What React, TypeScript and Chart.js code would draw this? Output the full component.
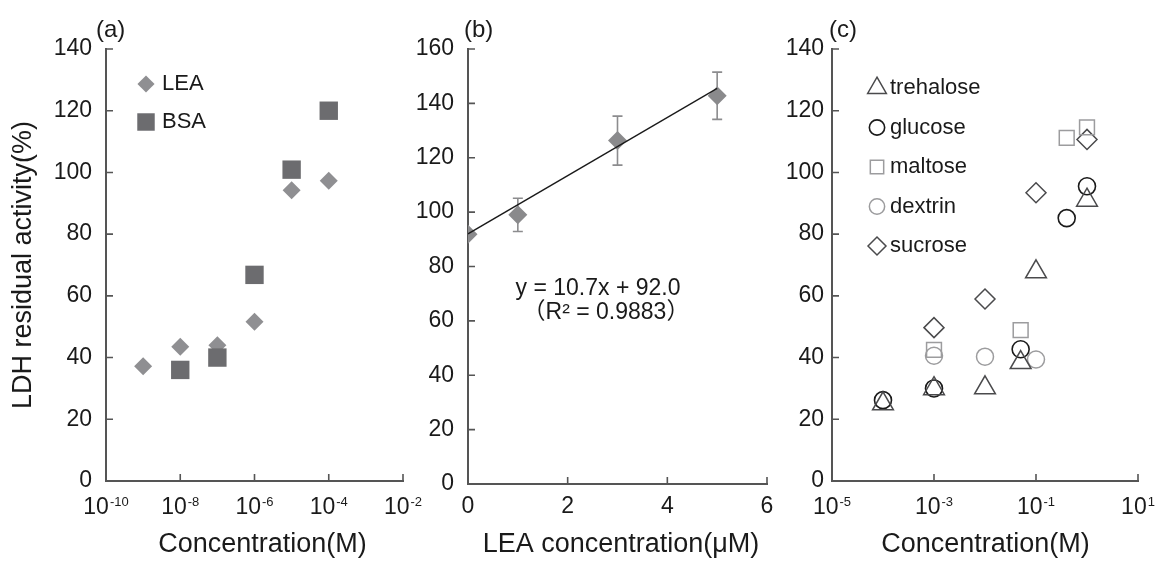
import React, { useEffect, useRef } from 'react';
import { Chart, registerables } from 'chart.js';
import { drawPoint } from 'chart.js/helpers';

Chart.register(...registerables);

const W = 1157;
const H = 562;
const FONT = '"Liberation Sans", Arial, "Noto Sans CJK JP", sans-serif';
const TEXT = '#1a1a1a';
const AXIS = '#555555';
const TICK_FONT = 23;
const TITLE_FONT = 27;
const LEGEND_FONT = 22;
const PANEL_FONT = 24;

// ---------- Panel (a) ----------
const A_LEA_CONC = [1e-9, 1e-8, 1e-7, 1e-6, 1e-5, 1e-4];
const A_LEA_ACT = [37.2, 43.5, 44.0, 51.6, 94.2, 97.3];
const A_BSA_CONC = [1e-8, 1e-7, 1e-6, 1e-5, 1e-4];
const A_BSA_ACT = [36.0, 40.0, 66.8, 100.9, 120.0];
const A_X_EXPONENTS = [-10, -8, -6, -4, -2];
const A_Y_MIN = 0, A_Y_MAX = 140, A_Y_STEP = 20;
const A_LEGEND = ['LEA', 'BSA'];

// ---------- Panel (b) ----------
const B_CONC = [0, 1, 3, 5];
const B_ACT = [91.9, 99.0, 126.3, 142.8];
const B_ERR = [0, 6.1, 9.0, 8.7];
const B_FIT_SLOPE = 10.7;
const B_FIT_INTERCEPT = 92.0;
const B_FIT_X = [0, 5];
const B_EQUATION = 'y = 10.7x + 92.0';
const B_R2 = '（R² = 0.9883）';
const B_X_MIN = 0, B_X_MAX = 6, B_X_STEP = 2;
const B_Y_MIN = 0, B_Y_MAX = 160, B_Y_STEP = 20;

// ---------- Panel (c) ----------
const C_TREHALOSE_CONC = [1e-4, 1e-3, 1e-2, 0.05, 0.1, 1];
const C_TREHALOSE_ACT = [25.0, 29.9, 30.2, 38.4, 67.8, 91.0];
const C_GLUCOSE_CONC = [1e-4, 1e-3, 0.05, 0.4, 1];
const C_GLUCOSE_ACT = [26.2, 30.0, 42.7, 85.2, 95.5];
const C_MALTOSE_CONC = [1e-3, 0.05, 0.4, 1];
const C_MALTOSE_ACT = [42.5, 48.9, 111.2, 114.6];
const C_DEXTRIN_CONC = [1e-3, 1e-2, 0.1];
const C_DEXTRIN_ACT = [40.6, 40.3, 39.4];
const C_SUCROSE_CONC = [1e-3, 1e-2, 0.1, 1];
const C_SUCROSE_ACT = [49.7, 59.0, 93.4, 110.7];
const C_X_EXPONENTS = [-5, -3, -1, 1];
const C_Y_MIN = 0, C_Y_MAX = 140, C_Y_STEP = 20;
const C_LEGEND = ['trehalose', 'glucose', 'maltose', 'dextrin', 'sucrose'];

const pts = (xs: number[], ys: number[]) => xs.map((x, i) => ({ x, y: ys[i] }));
const NONE = 'rgba(255,255,255,0)';

// ---------- helpers ----------
const baseOptions = {
  responsive: false,
  animation: false,
  devicePixelRatio: 1,
  events: [],
  plugins: { legend: { display: false }, tooltip: { enabled: false } },
};

function linY(min: number, max: number, step: number, width: number, pad: number, title?: string): any {
  return {
    type: 'linear',
    position: 'left',
    min,
    max,
    ticks: { stepSize: step, padding: pad, color: TEXT, font: { family: FONT, size: TICK_FONT } },
    grid: { display: false, drawTicks: false },
    border: { display: true, color: AXIS, width: 2 },
    title: title
      ? { display: true, text: title, color: TEXT, font: { family: FONT, size: TITLE_FONT }, padding: { top: 7, bottom: 0 } }
      : { display: false },
    afterFit: (s: any) => { s.width = width; },
  };
}

function logX(exps: number[], height: number): any {
  return {
    type: 'logarithmic',
    position: 'bottom',
    min: Math.pow(10, exps[0]),
    max: Math.pow(10, exps[exps.length - 1]),
    afterBuildTicks: (s: any) => { s.ticks = exps.map((e) => ({ value: Math.pow(10, e) })); },
    ticks: { callback: () => '', padding: 0, autoSkip: false, maxRotation: 0 },
    grid: { display: false, drawTicks: false },
    border: { display: true, color: AXIS, width: 2 },
    afterFit: (s: any) => { s.height = height; },
  };
}

const inwardTicks = {
  id: 'inwardTicks',
  afterDatasetsDraw(chart: any) {
    const { ctx, chartArea: ca } = chart;
    const xs = chart.scales.x;
    const ys = chart.scales.y;
    ctx.save();
    ctx.strokeStyle = AXIS;
    ctx.lineWidth = 1.6;
    ctx.beginPath();
    xs.ticks.forEach((t: any) => {
      const px = xs.getPixelForValue(t.value);
      ctx.moveTo(px, ca.bottom);
      ctx.lineTo(px, ca.bottom - 7);
    });
    ys.ticks.forEach((t: any) => {
      const py = ys.getPixelForValue(t.value);
      ctx.moveTo(ca.left, py);
      ctx.lineTo(ca.left + 7, py);
    });
    ctx.stroke();
    ctx.restore();
  },
};

function superTicks(exps: number[]) {
  return {
    id: 'superTicks',
    afterDraw(chart: any) {
      const { ctx, chartArea: ca } = chart;
      const xs = chart.scales.x;
      const base = ca.bottom + 32.5;
      ctx.save();
      ctx.fillStyle = TEXT;
      ctx.textAlign = 'left';
      ctx.textBaseline = 'alphabetic';
      exps.forEach((e) => {
        const px = xs.getPixelForValue(Math.pow(10, e));
        const es = String(e);
        ctx.font = `${TICK_FONT}px ${FONT}`;
        const wb = ctx.measureText('10').width;
        ctx.font = `13px ${FONT}`;
        const we = ctx.measureText(es).width;
        const x0 = px - (wb + 1 + we) / 2;
        ctx.font = `${TICK_FONT}px ${FONT}`;
        ctx.fillText('10', x0, base);
        ctx.font = `13px ${FONT}`;
        ctx.fillText(es, x0 + wb + 1, base - 8);
      });
      ctx.restore();
    },
  };
}

function panelLabel(text: string, dx: number) {
  return {
    id: 'panelLabel',
    afterDraw(chart: any) {
      const { ctx, chartArea: ca } = chart;
      ctx.save();
      ctx.fillStyle = TEXT;
      ctx.font = `${PANEL_FONT}px ${FONT}`;
      ctx.textAlign = 'left';
      ctx.textBaseline = 'middle';
      ctx.fillText(text, ca.left + dx, ca.top - 19);
      ctx.restore();
    },
  };
}

function xTitle(text: string, dx: number) {
  return {
    id: 'xTitle',
    afterDraw(chart: any) {
      const { ctx, chartArea: ca } = chart;
      ctx.save();
      ctx.fillStyle = TEXT;
      ctx.font = `${TITLE_FONT}px ${FONT}`;
      ctx.textAlign = 'center';
      ctx.textBaseline = 'middle';
      ctx.fillText(text, (ca.left + ca.right) / 2 + dx, chart.height - 17.5);
      ctx.restore();
    },
  };
}

function customLegend(labels: string[], mx: number, tx: number, y0: number, dy: number, scale: number) {
  return {
    id: 'customLegend',
    afterDraw(chart: any) {
      const { ctx, chartArea: ca } = chart;
      ctx.save();
      labels.forEach((lab, i) => {
        const ds = chart.data.datasets.find((d: any) => d.label === lab);
        if (!ds) return;
        const y = ca.top + y0 + i * dy;
        ctx.fillStyle = ds.backgroundColor;
        ctx.strokeStyle = ds.borderColor;
        ctx.lineWidth = ds.borderWidth;
        drawPoint(ctx, { pointStyle: ds.pointStyle, radius: ds.pointRadius * scale, rotation: 0, borderWidth: ds.borderWidth } as any, ca.left + mx, y);
        ctx.fillStyle = TEXT;
        ctx.font = `${LEGEND_FONT}px ${FONT}`;
        ctx.textAlign = 'left';
        ctx.textBaseline = 'middle';
        ctx.fillText(lab, ca.left + tx, y);
      });
      ctx.restore();
    },
  };
}

const errorBars = {
  id: 'errorBars',
  beforeDatasetsDraw(chart: any) {
    const { ctx } = chart;
    const xs = chart.scales.x;
    const ys = chart.scales.y;
    ctx.save();
    ctx.strokeStyle = '#8c8c8e';
    ctx.lineWidth = 1.6;
    B_CONC.forEach((c, i) => {
      const e = B_ERR[i];
      if (!e) return;
      const px = xs.getPixelForValue(c);
      const top = ys.getPixelForValue(B_ACT[i] + e);
      const bot = ys.getPixelForValue(B_ACT[i] - e);
      ctx.beginPath();
      ctx.moveTo(px, top);
      ctx.lineTo(px, bot);
      ctx.moveTo(px - 5, top);
      ctx.lineTo(px + 5, top);
      ctx.moveTo(px - 5, bot);
      ctx.lineTo(px + 5, bot);
      ctx.stroke();
    });
    ctx.restore();
  },
};

const equationText = {
  id: 'equationText',
  afterDraw(chart: any) {
    const { ctx, chartArea: ca } = chart;
    ctx.save();
    ctx.fillStyle = TEXT;
    ctx.font = `${TICK_FONT}px ${FONT}`;
    ctx.textAlign = 'center';
    ctx.textBaseline = 'middle';
    ctx.fillText(B_EQUATION, ca.left + 130, ca.top + 239.5);
    ctx.fillText(B_R2, ca.left + 138, ca.top + 264);
    ctx.restore();
  },
};

// ---------- configs ----------
function configA(): any {
  return {
    type: 'scatter',
    data: {
      datasets: [
        {
          label: 'BSA', order: 0, data: pts(A_BSA_CONC, A_BSA_ACT),
          pointStyle: 'rect', pointRadius: 13, backgroundColor: '#6c6c6f', borderColor: '#6c6c6f', borderWidth: 0,
        },
        {
          label: 'LEA', order: 1, data: pts(A_LEA_CONC, A_LEA_ACT),
          pointStyle: 'rectRot', pointRadius: 9, backgroundColor: '#8f8f92', borderColor: '#8f8f92', borderWidth: 0,
        },
      ],
    },
    options: {
      ...baseOptions,
      layout: { padding: { left: 0, right: W - 403, top: 49, bottom: 0 } },
      scales: {
        x: logX(A_X_EXPONENTS, 81),
        y: linY(A_Y_MIN, A_Y_MAX, A_Y_STEP, 106, 14, 'LDH residual activity(%)'),
      },
    },
    plugins: [
      inwardTicks,
      superTicks(A_X_EXPONENTS),
      panelLabel('(a)', -10),
      xTitle('Concentration(M)', 8),
      customLegend(A_LEGEND, 40, 56, 35, 38, 0.95),
    ],
  };
}

function configB(): any {
  return {
    type: 'scatter',
    data: {
      datasets: [
        {
          label: 'fit', order: 0,
          data: B_FIT_X.map((x) => ({ x, y: B_FIT_SLOPE * x + B_FIT_INTERCEPT })),
          showLine: true, pointRadius: 0, borderColor: '#1a1a1a', borderWidth: 1.3, backgroundColor: NONE,
        },
        {
          label: 'LEA', order: 1, data: pts(B_CONC, B_ACT),
          pointStyle: 'rectRot', pointRadius: 9.5, backgroundColor: '#8a8a8c', borderColor: '#8a8a8c', borderWidth: 0,
        },
      ],
    },
    options: {
      ...baseOptions,
      layout: { padding: { left: 400, right: W - 767, top: 49, bottom: 0 } },
      scales: {
        x: {
          type: 'linear', position: 'bottom', min: B_X_MIN, max: B_X_MAX,
          ticks: { stepSize: B_X_STEP, padding: 9, color: TEXT, font: { family: FONT, size: TICK_FONT }, maxRotation: 0 },
          grid: { display: false, drawTicks: false },
          border: { display: true, color: AXIS, width: 2 },
          afterFit: (s: any) => { s.height = 78; },
        },
        y: linY(B_Y_MIN, B_Y_MAX, B_Y_STEP, 68, 14),
      },
    },
    plugins: [
      errorBars,
      inwardTicks,
      equationText,
      panelLabel('(b)', -4),
      xTitle('LEA concentration(μM)', 3.5),
    ],
  };
}

function configC(): any {
  const outline = (label: string, xs: number[], ys: number[], style: string, r: number, color: string, bw: number) => ({
    label, data: pts(xs, ys), pointStyle: style, pointRadius: r,
    backgroundColor: NONE, borderColor: color, borderWidth: bw,
  });
  return {
    type: 'scatter',
    data: {
      datasets: [
        outline('trehalose', C_TREHALOSE_CONC, C_TREHALOSE_ACT, 'triangle', 12, '#4a4a4c', 1.5),
        outline('glucose', C_GLUCOSE_CONC, C_GLUCOSE_ACT, 'circle', 8.5, '#1a1a1a', 1.6),
        outline('maltose', C_MALTOSE_CONC, C_MALTOSE_ACT, 'rect', 10.5, '#9c9c9e', 1.5),
        outline('dextrin', C_DEXTRIN_CONC, C_DEXTRIN_ACT, 'circle', 8.5, '#9c9c9e', 1.5),
        outline('sucrose', C_SUCROSE_CONC, C_SUCROSE_ACT, 'rectRot', 10, '#4a4a4c', 1.5),
      ],
    },
    options: {
      ...baseOptions,
      layout: { padding: { left: 780, right: W - 1138, top: 49, bottom: 0 } },
      scales: {
        x: logX(C_X_EXPONENTS, 81),
        y: linY(C_Y_MIN, C_Y_MAX, C_Y_STEP, 52, 8),
      },
    },
    plugins: [
      inwardTicks,
      superTicks(C_X_EXPONENTS),
      panelLabel('(c)', -3),
      xTitle('Concentration(M)', 0.5),
      customLegend(C_LEGEND, 45, 58, 39, 39.5, 0.9),
    ],
  };
}

function ChartCanvas({ make }: { make: () => any }) {
  const ref = useRef<HTMLCanvasElement | null>(null);
  useEffect(() => {
    if (!ref.current) return;
    const chart = new Chart(ref.current, make());
    return () => chart.destroy();
  }, [make]);
  return (
    <canvas
      ref={ref}
      width={W}
      height={H}
      style={{ position: 'absolute', left: 0, top: 0, width: W, height: H }}
    />
  );
}

export default function App() {
  return (
    <div style={{ position: 'absolute', left: 0, top: 0, width: W, height: H, background: '#ffffff', overflow: 'hidden' }}>
      <ChartCanvas make={configA} />
      <ChartCanvas make={configB} />
      <ChartCanvas make={configC} />
    </div>
  );
}
